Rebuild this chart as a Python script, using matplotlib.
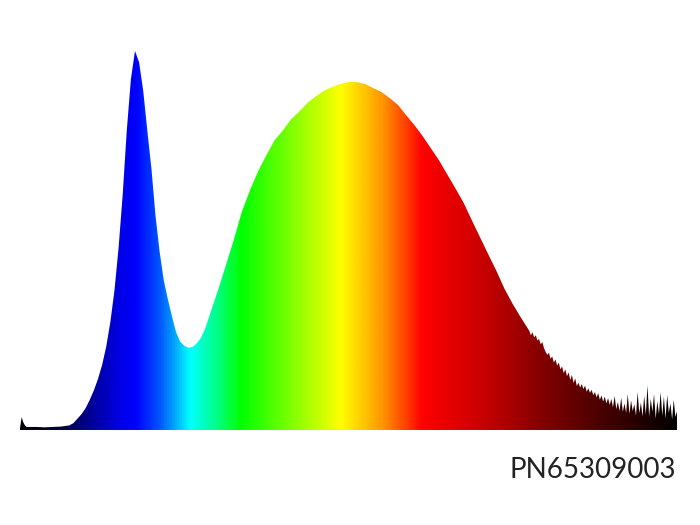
import numpy as np
import matplotlib
matplotlib.use("Agg")
import matplotlib.pyplot as plt
from matplotlib.colors import LinearSegmentedColormap

# spectre (intensite relative, max = 1)
wl_head = [380, 381, 382, 383, 384, 385, 390, 395, 400, 405]
int_head = [0.005, 0.034, 0.02, 0.012, 0.008, 0.008, 0.008, 0.007, 0.008, 0.009]

# pic bleu, pas de 2.5 nm
wl_blue = [410, 412.5, 415, 417.5, 420, 422.5, 425, 427.5, 430, 432.5,
           435, 437.5, 440, 442.5, 445, 447.5, 450, 452.5, 455, 457.5,
           460, 462.5, 465, 467.5, 470, 472.5, 475, 477.5, 480, 482.5,
           485, 487.5, 490, 492.5, 495, 497.5, 500]
int_blue = [0.012, 0.018, 0.03, 0.042, 0.058, 0.08, 0.105, 0.135, 0.172, 0.22,
            0.285, 0.368, 0.48, 0.62, 0.79, 0.925, 1.0, 0.97, 0.895, 0.79,
            0.69, 0.565, 0.47, 0.395, 0.345, 0.30, 0.258, 0.233, 0.222, 0.217,
            0.219, 0.228, 0.242, 0.265, 0.297, 0.33, 0.362]

# phosphore, pas de 5 nm
wl_main = list(range(505, 690, 5))
int_main = [0.43, 0.50, 0.575, 0.633, 0.683, 0.725, 0.765, 0.79, 0.82, 0.84,
            0.863, 0.88, 0.895, 0.905, 0.913, 0.918, 0.918, 0.913, 0.902, 0.892,
            0.876, 0.858, 0.831, 0.805, 0.776, 0.744, 0.712, 0.675, 0.638, 0.60,
            0.554, 0.509, 0.464, 0.42, 0.372, 0.332, 0.296]

# queue bruitee, pas de 1 nm
wl_tail = list(range(690, 781))
int_tail = [0.262, 0.250, 0.258, 0.244, 0.250, 0.236, 0.240, 0.226, 0.232, 0.216,
            0.206, 0.198, 0.204, 0.188, 0.194, 0.178, 0.186, 0.170, 0.178, 0.160,
            0.168, 0.150, 0.160, 0.142, 0.152, 0.132, 0.145, 0.124, 0.136, 0.116,
            0.125, 0.112, 0.121, 0.108, 0.117, 0.101, 0.110, 0.098, 0.106, 0.092,
            0.100, 0.086, 0.097, 0.080, 0.091, 0.075, 0.088, 0.070, 0.084, 0.066,
            0.082, 0.060, 0.090, 0.055, 0.074, 0.050, 0.085, 0.048, 0.070, 0.045,
            0.095, 0.042, 0.078, 0.050, 0.068, 0.038, 0.100, 0.044, 0.072, 0.036,
            0.090, 0.040, 0.118, 0.035, 0.082, 0.048, 0.095, 0.030, 0.076, 0.042,
            0.100, 0.038, 0.088, 0.030, 0.092, 0.045, 0.070, 0.028, 0.080, 0.034,
            0.05]

label = "PN65309003"

wl = np.array(wl_head + wl_blue + wl_main + wl_tail, dtype=float)
inten = np.array(int_head + int_blue + int_main + int_tail)

# couleurs du spectre
stops = [(380, (0, 0, 0)), (405, (0, 0, 0.25)), (420, (0, 0, 0.55)),
         (440, (0, 0, 0.9)), (450, (0, 0, 1)), (465, (0, 0.35, 1)),
         (483, (0, 1, 1)), (500, (0, 1, 0.5)), (514, (0, 1, 0)),
         (545, (0.5, 1, 0)), (575, (1, 1, 0)), (600, (1, 0.6, 0)),
         (625, (1, 0, 0)), (660, (0.8, 0, 0)), (700, (0.5, 0, 0)),
         (740, (0.25, 0, 0)), (780, (0, 0, 0))]
cmap = LinearSegmentedColormap.from_list(
    "spectre", [((w - 380) / 400, c) for w, c in stops])

fig = plt.figure(figsize=(7, 5.25), dpi=100)
ax = fig.add_axes([0.0286, 0.181, 0.9386, 0.7219])
ax.set_xlim(380, 780)
ax.set_ylim(0, 1)
ax.axis("off")

poly = ax.fill_between(wl, 0, inten, facecolor="none", edgecolor="none")
grad = np.linspace(0, 1, 800).reshape(1, -1)
im = ax.imshow(grad, cmap=cmap, aspect="auto", extent=[380, 780, 0, 1],
               interpolation="bilinear")
im.set_clip_path(poly.get_paths()[0], transform=ax.transData)

fig.text(0.966, 0.0895, label, ha="right", va="baseline",
         fontsize=20, family="Lato", color="#222222")

fig.savefig("out.png", dpi=100)
